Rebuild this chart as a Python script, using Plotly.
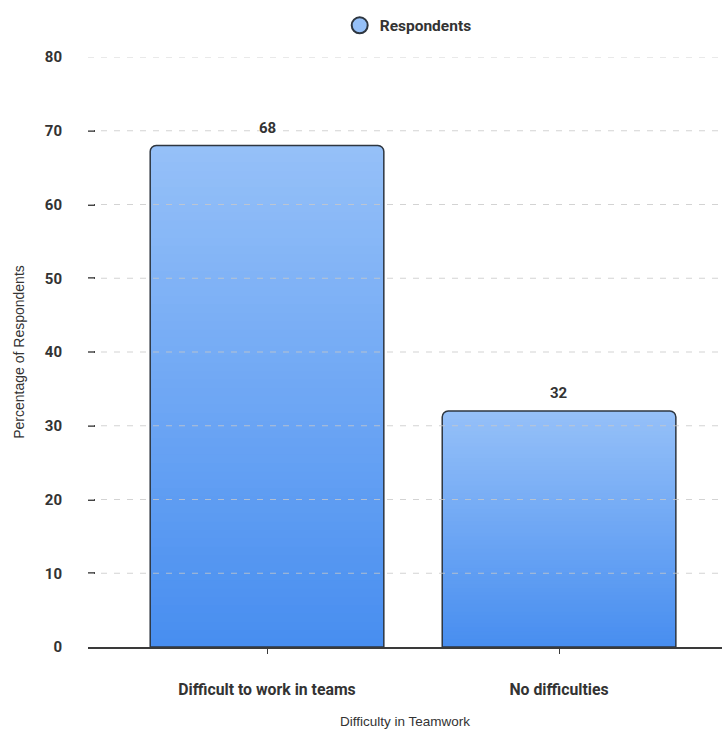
import plotly.graph_objects as go

# Survey results
CATEGORIES = ["Difficult to work in teams", "No difficulties"]
VALUES = [68, 32]
Y_TICKS = [0, 10, 20, 30, 40, 50, 60, 70, 80]
SERIES_NAME = "Respondents"

TOP_COLOR = (149, 192, 248)
BOTTOM_COLOR = (72, 142, 240)
OUTLINE = "#2e3640"
N_SLICES = 60
BOLD_FONT = "Roboto"
PLAIN_FONT = "Liberation Sans, Arial, sans-serif"

fig = go.Figure()

# Vertical gradient: overlapping bars, each a fraction of the full height,
# darker colours on the shorter (lower) ones.
for k in range(N_SLICES, 0, -1):
    frac = k / N_SLICES
    t = (k - 1) / (N_SLICES - 1)
    c = tuple(round(BOTTOM_COLOR[i] + (TOP_COLOR[i] - BOTTOM_COLOR[i]) * t) for i in range(3))
    fig.add_trace(go.Bar(
        x=CATEGORIES,
        y=[v * frac for v in VALUES],
        marker=dict(color="rgb(%d,%d,%d)" % c, line=dict(width=0),
                    cornerradius=6 if k == N_SLICES else 0),
        width=0.8,
        showlegend=False,
        hoverinfo="skip",
    ))

# Outline on top
fig.add_trace(go.Bar(
    x=CATEGORIES,
    y=VALUES,
    marker=dict(color="rgba(0,0,0,0)", line=dict(color=OUTLINE, width=1.5), cornerradius=6),
    width=0.8,
    showlegend=False,
    name=SERIES_NAME,
))

# Legend entry (circle marker)
fig.add_trace(go.Scatter(
    x=[None], y=[None], mode="markers", name=SERIES_NAME,
    marker=dict(symbol="circle", size=18, color="rgb(149,192,248)",
                line=dict(color=OUTLINE, width=2)),
    showlegend=True,
))

# Dashed grid lines drawn over the bars
for t in Y_TICKS[1:]:
    fig.add_shape(type="line", xref="paper", x0=0, x1=1, yref="y", y0=t, y1=t,
                  line=dict(color="rgba(200,200,200,0.8)", width=1, dash="6px,7px"),
                  layer="above")

# Value labels
for cat, v in zip(CATEGORIES, VALUES):
    fig.add_annotation(x=cat, y=v, text="<b>%d</b>" % v, showarrow=False,
                       yanchor="bottom", yshift=7,
                       font=dict(family=BOLD_FONT, size=15, color="#333333"))

fig.update_layout(
    width=722, height=729,
    margin=dict(l=88, r=0, t=57, b=82, autoexpand=False),
    paper_bgcolor="white", plot_bgcolor="white",
    barmode="overlay",
    font=dict(family=BOLD_FONT, color="#333333"),
    legend=dict(orientation="h", x=0.397, xanchor="left", y=1.053, yanchor="middle",
                font=dict(family=BOLD_FONT, size=15.5, color="#333333", weight="bold"),
                bgcolor="rgba(0,0,0,0)"),
    showlegend=True,
)

fig.update_xaxes(
    range=[-0.613, 1.558],
    showline=True, linecolor="#3a3a3a", linewidth=1.5,
    ticks="outside", ticklen=5, tickcolor="#3a3a3a",
    tickfont=dict(family=BOLD_FONT, size=15.8, color="#333333", weight="bold"),
    ticklabelstandoff=22,
    showgrid=False, zeroline=False,
    title=dict(text="Difficulty in Teamwork", standoff=20,
               font=dict(family=PLAIN_FONT, size=13.5, color="#333333")),
    automargin=False,
)

fig.update_yaxes(
    range=[0, 80], tickvals=Y_TICKS,
    showgrid=False, zeroline=False, showline=False,
    ticks="inside", ticklen=7, tickcolor="#444444", tickwidth=2,
    tickfont=dict(family=BOLD_FONT, size=15, color="#333333", weight="bold"),
    ticklabelstandoff=25,
    title=dict(text="Percentage of Respondents", standoff=16,
               font=dict(family=PLAIN_FONT, size=14, color="#333333")),
    automargin=False,
)

fig.write_html("out.html")
